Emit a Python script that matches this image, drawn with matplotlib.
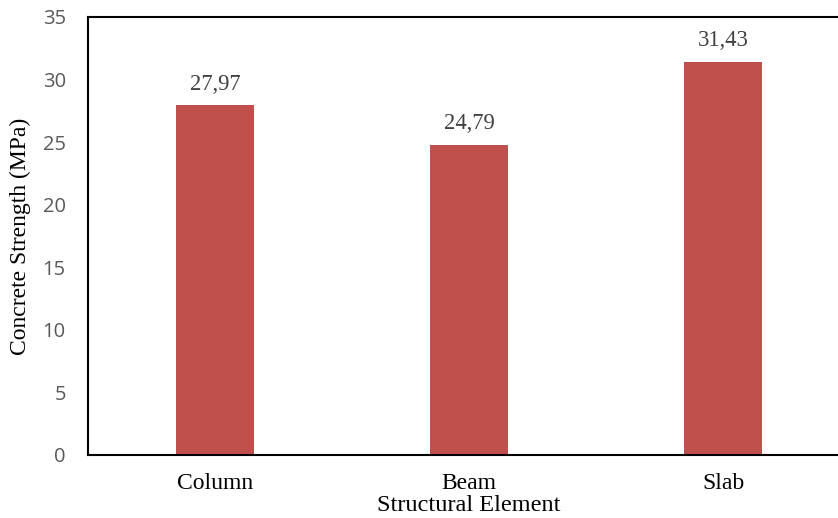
import matplotlib
matplotlib.use("Agg")
import matplotlib.pyplot as plt

categories = ["Column", "Beam", "Slab"]
values = [27.97, 24.79, 31.43]
value_labels = ["27,97", "24,79", "31,43"]
yticks = [0, 5, 10, 15, 20, 25, 30, 35]

W, H = 838, 518
fig = plt.figure(figsize=(W/100, H/100), dpi=100)
left, right, top, bottom = 88, 850, 17, 455
ax = fig.add_axes([left/W, 1 - bottom/H, (right-left)/W, (bottom-top)/H])

x = list(range(len(categories)))
ax.bar(x, values, width=0.307, color="#C0504D", zorder=2)
for xi, v, lab in zip(x, values, value_labels):
    ax.annotate(lab, (xi, v), xytext=(0, 11), textcoords="offset points",
                ha="center", va="baseline", fontsize=16.3,
                family="Liberation Serif", color="#404040")

ax.set_xlim(-0.5, 2.5)
ax.set_ylim(0, 35)
ax.set_yticks(yticks)
ax.set_yticklabels([str(t) for t in yticks], family="Open Sans", fontsize=14.5, color="#595959")
ax.set_xticks(x)
ax.set_xticklabels(categories, family="Liberation Serif", fontsize=17)
ax.tick_params(axis="both", length=0)
ax.tick_params(axis="y", pad=16)
ax.tick_params(axis="x", pad=13)
for s in ["left", "top", "bottom", "right"]:
    ax.spines[s].set_linewidth(1.5)
    ax.spines[s].set_color("black")

ax.set_xlabel("Structural Element", family="Liberation Serif", fontsize=17.5, labelpad=1)
ax.set_ylabel("Concrete Strength (MPa)", family="Liberation Serif", fontsize=17)
ax.yaxis.set_label_coords(-(88 - 31) / (right - left), 0.5)

fig.savefig("out.png", dpi=100)
